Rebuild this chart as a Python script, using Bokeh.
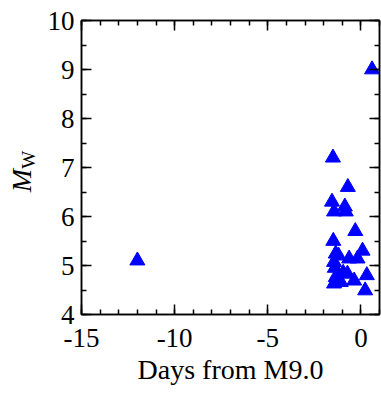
from bokeh.plotting import figure
from bokeh.layouts import row
from bokeh.models import (LinearAxis, Range1d, SingleIntervalTicker, Title,
                          ColumnDataSource, CustomJSTickFormatter)
from bokeh.core.properties import value
from bokeh.embed import file_html
from bokeh.resources import INLINE

days = [-12.0, 0.6, -1.5, -0.7, -1.55, -0.86, -1.44, -0.81, -0.3, -1.48, 0.09,
        -1.2, -1.44, -0.63, -0.18, -1.35, -1.4, -1.35, -1.44, -0.72, -0.36, 0.32,
        0.23, -1.08, -1.25, -0.95]
mw = [5.1, 9.0, 7.2, 6.6, 6.3, 6.2, 6.1, 6.1, 5.7, 5.5, 5.3,
      5.2, 5.07, 5.14, 5.14, 5.24, 4.95, 4.76, 4.63, 4.83, 4.69, 4.8,
      4.49, 4.66, 4.7, 4.85]
x_label = "Days from M9.0"
y_label_main = "M"
y_label_sub = "W"

FONT = "Liberation Serif"
H = 395
LW = 40  # width of the y-label strip

# ---- strip holding the rotated y-axis label ----
lab = figure(width=LW, height=H, output_backend="svg", toolbar_location=None,
             x_range=Range1d(0, LW), y_range=Range1d(0, H),
             x_axis_type=None, y_axis_type=None,
             min_border=0, min_border_left=0, min_border_right=0,
             min_border_top=0, min_border_bottom=0)
lab.grid.visible = False
lab.outline_line_color = None
lab.text(x=[21], y=[180], text=[y_label_main], angle=1.5708,
         text_font=value(FONT), text_font_style="italic", text_font_size="28px",
         text_align="center", text_baseline="middle", text_color="black")
lab.text(x=[28], y=[208], text=[y_label_sub], angle=1.5708,
         text_font=value(FONT), text_font_size="19px",
         text_align="center", text_baseline="middle", text_color="black")

# ---- main plot ----
p = figure(width=381 - LW, height=H, output_backend="svg", toolbar_location=None,
           x_range=Range1d(-15, 1), y_range=Range1d(4, 10),
           min_border_left=81 - LW, min_border_top=20, min_border_right=2,
           min_border_bottom=H - 314)
p.grid.visible = False
p.outline_line_color = "black"
p.outline_line_width = 1.5
p.background_fill_color = "white"
p.border_fill_color = "white"

src = ColumnDataSource(dict(x=days, y=mw))
p.scatter("x", "y", source=src, marker="triangle", size=15,
          fill_color="#0000ff", line_color="#0000ff")

xt = SingleIntervalTicker(interval=5, num_minor_ticks=5)
yt = SingleIntervalTicker(interval=1, num_minor_ticks=2)
plain = CustomJSTickFormatter(code="return tick.toString();")
blank = CustomJSTickFormatter(code="return '';")

def style(ax):
    ax.major_tick_in = 10
    ax.major_tick_out = 0
    ax.minor_tick_in = 5
    ax.minor_tick_out = 0
    ax.axis_line_width = 1.5
    ax.major_tick_line_width = 1.5
    ax.minor_tick_line_width = 1.5
    ax.major_label_text_font = FONT
    ax.major_label_text_font_size = "27px"
    ax.major_label_text_color = "black"

xa = p.xaxis[0]
xa.ticker = xt
xa.formatter = plain
style(xa)
xa.major_label_standoff = 14

xtitle = Title(text=x_label, align="center", offset=-15, standoff=4,
               text_font=FONT, text_font_style="normal", text_font_size="28px",
               text_color="black")
p.add_layout(xtitle, "below")

ya = p.yaxis[0]
ya.ticker = yt
ya.formatter = plain
style(ya)
ya.major_label_standoff = 7

top = LinearAxis(ticker=xt, formatter=blank)
style(top)
top.major_label_standoff = 0
p.add_layout(top, "above")
right = LinearAxis(ticker=yt, formatter=blank)
style(right)
right.major_label_standoff = 0
p.add_layout(right, "right")

layout = row(lab, p, spacing=0)
open("out.html", "w").write(file_html(layout, INLINE))
